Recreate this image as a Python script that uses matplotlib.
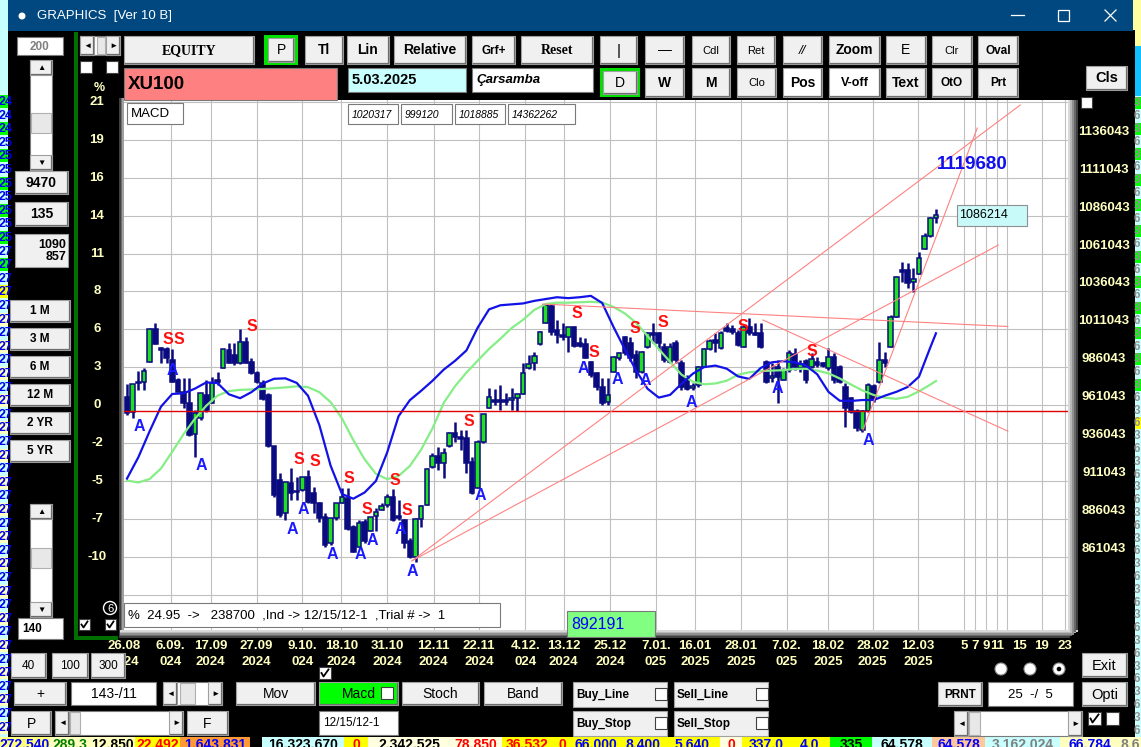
import matplotlib
matplotlib.use("Agg")
import matplotlib.pyplot as plt
from matplotlib.patches import Rectangle, Circle

plt.rcParams["font.family"] = ["Liberation Sans", "DejaVu Sans"]

# XU100 daily bars 26.08.2024 .. 5.03.2025, prices in thousands
open_ = [966.6, 956.7, 976.5, 976.1, 989.3, 1011.3, 998.9, 998.1, 990.8, 977.6,
         969.9, 962.2, 942.0, 952.3, 967.7, 962.2, 977.6, 985.3, 997.4, 994.1,
         988.6, 1002.9, 989.7, 982.0, 975.4, 967.7, 934.3, 911.7, 889.7, 909.9,
         903.5, 905.1, 913.4, 903.3, 896.3, 887.5, 869.9, 886.3, 896.2, 899.5,
         880.8, 867.6, 884.1, 878.2, 887.9, 891.8, 895.1, 900.6, 887.9, 885.2,
         871.6, 861.0, 885.7, 895.1, 920.4, 927.7, 922.6, 934.1, 942.4, 940.2,
         939.1, 923.7, 906.1, 936.9, 958.9, 964.4, 963.7, 964.2, 964.4, 965.5,
         968.1, 985.3, 988.6, 1001.3, 1015.0, 1026.4, 1010.6, 1007.3, 1005.7, 1012.3,
         1001.8, 1001.3, 989.7, 982.0, 973.2, 963.3, 983.1, 991.9, 1005.7, 1002.2,
         994.1, 983.1, 999.6, 1008.8, 1008.4, 999.6, 989.7, 1001.8, 989.0, 978.7,
         972.1, 974.3, 986.4, 997.8, 1004.0, 998.5, 1011.7, 1011.0, 1008.8, 999.6,
         1012.8, 1008.4, 1008.4, 989.7, 978.7, 986.4, 977.6, 984.2, 994.7, 985.3,
         990.3, 986.4, 989.7, 988.6, 985.3, 992.5, 985.9, 973.2, 965.5, 957.3,
         944.6, 957.3, 973.6, 976.5, 990.8, 999.1, 1018.9, 1050.1, 1050.1, 1042.5,
         1047.5, 1063.8, 1072.6, 1084.2]
high = [974.8, 974.8, 983.8, 985.3, 1011.7, 1015.4, 999.6, 999.6, 997.9, 978.7,
        978.7, 978.7, 957.8, 968.8, 977.6, 979.8, 983.1, 997.9, 1001.8, 1001.8,
        1011.0, 1006.2, 991.9, 983.8, 977.6, 968.8, 934.3, 916.5, 910.6, 919.3,
        913.9, 913.9, 918.3, 907.3, 897.4, 889.7, 886.4, 896.2, 906.1, 906.6,
        881.9, 885.2, 885.7, 887.4, 892.9, 896.2, 902.4, 905.5, 898.4, 885.7,
        873.1, 886.3, 895.1, 919.3, 929.2, 933.2, 932.5, 943.5, 950.1, 944.6,
        944.6, 927.0, 937.9, 955.2, 972.1, 971.4, 974.3, 968.8, 972.5, 968.8,
        989.0, 994.1, 996.3, 1010.1, 1027.7, 1027.7, 1017.2, 1015.0, 1012.8, 1013.2,
        1006.2, 1005.1, 990.3, 983.1, 978.7, 978.7, 993.4, 996.3, 1006.6, 1006.2,
        997.4, 996.9, 1009.5, 1015.4, 1009.5, 1001.8, 1001.8, 1004.0, 990.7, 980.9,
        975.4, 986.8, 998.5, 1004.4, 1008.8, 1010.1, 1015.0, 1013.9, 1010.6, 1013.9,
        1018.3, 1015.0, 1015.0, 990.8, 988.6, 990.8, 985.3, 997.4, 998.5, 990.8,
        991.2, 995.2, 992.5, 989.7, 998.5, 995.2, 987.5, 975.4, 966.6, 958.2,
        957.8, 975.4, 974.9, 1002.9, 996.3, 1020.5, 1046.2, 1055.6, 1054.5, 1051.3,
        1062.2, 1074.3, 1085.3, 1090.2]
low = [954.5, 952.3, 971.0, 971.0, 989.3, 1001.2, 988.6, 988.6, 976.5, 969.9,
       958.9, 940.7, 927.1, 951.2, 956.7, 962.2, 974.3, 985.3, 988.6, 987.5,
       988.2, 988.6, 981.6, 975.4, 964.4, 933.6, 900.7, 887.5, 885.3, 898.5,
       898.5, 904.6, 896.3, 889.7, 884.2, 867.7, 868.8, 885.2, 896.2, 878.6,
       864.4, 867.6, 869.8, 878.2, 878.2, 891.8, 894.0, 884.8, 885.2, 866.5,
       859.9, 857.7, 880.4, 895.1, 919.3, 918.2, 912.7, 933.6, 936.9, 931.4,
       916.4, 902.4, 906.1, 936.2, 958.9, 961.1, 957.8, 961.1, 957.8, 957.4,
       968.1, 984.6, 984.2, 1000.7, 1015.0, 1007.3, 1001.8, 1004.0, 996.3, 999.6,
       999.6, 991.9, 979.8, 971.0, 961.1, 961.1, 983.1, 990.7, 994.1, 990.3,
       978.7, 982.0, 998.5, 1001.8, 997.4, 989.7, 988.6, 989.0, 971.0, 971.0,
       971.0, 973.2, 985.9, 997.4, 996.3, 997.8, 1009.5, 1007.9, 1000.0, 999.6,
       1007.3, 1007.3, 998.5, 975.4, 976.5, 962.2, 977.6, 983.1, 984.2, 983.1,
       975.8, 985.3, 986.4, 985.9, 984.2, 975.8, 975.4, 946.8, 955.6, 944.2,
       943.5, 956.7, 963.1, 975.8, 986.4, 999.1, 1018.9, 1042.5, 1038.1, 1035.9,
       1047.5, 1063.8, 1072.1, 1081.4]
close = [955.6, 974.8, 975.4, 983.6, 1011.3, 1001.2, 997.4, 991.9, 976.5, 969.9,
         962.2, 941.3, 955.6, 968.8, 957.8, 975.9, 976.3, 997.9, 989.1, 988.6,
         1002.9, 989.1, 982.0, 976.5, 964.9, 934.1, 901.8, 888.6, 910.6, 903.3,
         904.6, 913.4, 897.4, 896.3, 886.4, 868.8, 886.4, 896.2, 900.2, 879.1,
         864.4, 883.5, 871.6, 887.4, 890.7, 894.5, 900.6, 885.2, 886.3, 869.8,
         861.0, 885.7, 894.5, 918.6, 927.7, 922.6, 929.6, 942.4, 940.2, 938.4,
         922.6, 902.8, 936.9, 955.2, 966.2, 962.9, 963.1, 963.3, 965.5, 968.1,
         982.4, 988.2, 993.4, 1009.5, 1027.1, 1009.5, 1007.3, 1005.7, 1012.3, 1000.0,
         1000.0, 991.9, 980.9, 973.2, 962.2, 967.7, 993.0, 995.6, 995.1, 991.9,
         983.1, 996.3, 1008.4, 1007.3, 1001.8, 990.7, 999.6, 990.7, 973.2, 971.4,
         973.9, 986.4, 997.8, 1003.5, 1002.2, 1008.8, 1010.1, 1009.5, 1000.7, 1012.8,
         1008.4, 1007.3, 999.6, 976.5, 980.4, 979.8, 984.2, 995.2, 986.4, 988.1,
         977.6, 991.2, 987.5, 986.8, 992.5, 977.6, 976.5, 958.9, 956.7, 945.7,
         957.3, 974.3, 964.8, 990.8, 989.0, 1018.9, 1045.3, 1049.0, 1041.4, 1044.0,
         1057.8, 1072.6, 1084.2, 1086.2]

# MACD overlay (blue) and its signal (light green), read every second bar, on the price scale
macd_bars = list(range(0, 143, 2)) + [143]
macd = [912.6, 926.6, 943.8, 960.0, 968.4, 968.8, 971.9, 976.0, 975.6, 968.2,
        965.6, 969.6, 975.3, 978.4, 978.7, 975.7, 967.2, 947.9, 921.0, 902.4,
        899.3, 903.4, 911.0, 929.9, 953.7, 964.3, 970.5, 977.1, 984.5, 990.3,
        997.1, 1012.2, 1024.2, 1026.9, 1027.5, 1028.1, 1029.8, 1031.0, 1032.2, 1031.6,
        1032.2, 1033.1, 1028.4, 1012.6, 997.9, 983.8, 971.9, 966.0, 967.8, 975.0,
        981.7, 986.1, 987.1, 985.1, 980.0, 978.3, 985.5, 989.3, 990.0, 989.3,
        987.2, 981.4, 969.8, 963.9, 963.8, 964.4, 964.4, 967.3, 969.8, 973.0,
        979.8, 999.1, 1008.4]
signal = [911.3, 910.0, 912.3, 919.2, 930.3, 941.9, 952.0, 960.6, 967.3, 970.3,
          971.1, 971.4, 971.7, 972.2, 972.7, 973.4, 972.9, 969.6, 963.0, 952.3,
          938.0, 925.3, 915.7, 912.2, 914.3, 920.9, 931.7, 945.7, 962.6, 973.6,
          982.5, 990.4, 998.1, 1004.8, 1011.9, 1017.3, 1023.8, 1027.7, 1028.6, 1028.6,
          1028.9, 1029.2, 1028.7, 1025.8, 1021.5, 1015.3, 1006.7, 998.0, 989.6, 981.2,
          976.5, 974.8, 975.3, 977.1, 981.1, 982.7, 983.5, 983.8, 984.1, 984.9,
          985.0, 983.8, 982.0, 978.6, 974.6, 970.7, 967.7, 965.9, 965.2, 966.5,
          970.1, 974.6, 976.9]

base_price = 957.1
trend_lines = [((50.4, 858.4), (157.9, 1159.0)),
               ((50.4, 858.4), (154.0, 1066.6)),
               ((130.1, 944.6), (150.3, 1143.8)),
               ((112.4, 1017.2), (155.7, 943.9)),
               ((73.5, 1027.7), (155.7, 1012.9))]
sell_marks = [(7.2, 1004.0), (9.1, 1004.0), (22.1, 1012.8), (30.4, 925.3), (33.3, 923.7),
              (39.2, 912.8), (42.4, 892.3), (47.4, 911.2), (49.4, 891.8), (60.5, 950.5),
              (79.6, 1021.6), (82.6, 995.6), (89.7, 1011.7), (94.7, 1015.4), (108.8, 1013.2),
              (121.0, 996.3)]
buy_marks = [(2.1, 946.8), (8.0, 984.2), (13.1, 921.5), (29.2, 879.1), (31.2, 892.3),
             (36.3, 862.2), (41.3, 862.2), (43.4, 872.0), (48.4, 879.1), (50.4, 851.2),
             (62.4, 901.1), (80.7, 985.3), (86.7, 978.1), (91.6, 977.6), (99.7, 962.6),
             (114.9, 972.1), (131.0, 937.5)]

grid_prices = [1161043, 1136043, 1111043, 1086043, 1061043, 1036043, 1011043,
               986043, 961043, 936043, 911043, 886043, 861043, 836043]
pct_labels = ["21", "19", "16", "14", "11", "8", "6", "3", "0", "-2", "-5", "-7", "-10"]
date_pos = [-0.5, 7.7, 14.8, 22.9, 31.0, 37.9, 46.0, 54.2, 62.2, 70.4, 77.2, 85.4,
            93.5, 100.4, 108.5, 116.6, 123.9, 131.8, 139.8]
date_top = ["26.08", "6.09.", "17.09", "27.09", "9.10.", "18.10", "31.10", "12.11", "22.11",
            "4.12.", "13.12", "25.12", "7.01.", "16.01", "28.01", "7.02.", "18.02", "28.02", "12.03"]
date_bot = ["2024", "024", "2024", "2024", "024", "2024", "2024", "2024", "2024",
            "024", "2024", "2024", "025", "2025", "2025", "025", "2025", "2025", "2025"]
future_pos = [148.0, 149.9, 151.8, 153.8, 157.7, 161.7, 165.8]
future_lbl = ["5", "7", "9", "11", "15", "19", "23"]
future_grid = [148.0, 149.9, 151.8, 153.8, 155.6, 161.7, 165.8]

last_price = 1086214
target_price = 1119680
target_bar = 149.4

NAVY = "#0b0b80"
GREEN = "#1fe01f"
PALE = "#ffffc0"

W, H = 1141, 747
fig = plt.figure(figsize=(W / 100, H / 100), dpi=100)
fig.patch.set_facecolor("black")


def pixel_axes(z):
    a = fig.add_axes([0, 0, 1, 1])
    a.set_xlim(0, W)
    a.set_ylim(H, 0)
    a.axis("off")
    a.set_zorder(z)
    return a


bg = pixel_axes(0)
ax = fig.add_axes([124 / W, 1 - 630 / H, 944 / W, 530 / H])
ax.set_zorder(1)
fg = pixel_axes(2)


def box(x0, y0, x1, y1, fill, edge="#a0a0a0", lw=0.8, z=3, a=None):
    (a or fg).add_patch(Rectangle((x0, y0), x1 - x0, y1 - y0, facecolor=fill,
                                  edgecolor=edge, lw=lw, zorder=z))


def button(x0, y0, x1, y1, label, size=9.5, weight="bold", fill="#f0f0f0",
           family=None, style="normal", color="black"):
    box(x0, y0, x1, y1, fill)
    fg.plot([x0 + 1, x1 - 1, x1 - 1], [y1 - 1, y1 - 1, y0 + 1], color="#6e6e6e", lw=0.9, zorder=4)
    kw = {"family": family} if family else {}
    fg.text((x0 + x1) / 2, (y0 + y1) / 2 + 0.5, label, ha="center", va="center", fontsize=size,
            fontweight=weight, fontstyle=style, color=color, zorder=5, **kw)


def field(x0, y0, x1, y1, label, fill="white", size=9, weight="bold", ha="left",
          style="normal", color="black", a=None):
    box(x0, y0, x1, y1, fill, edge="#7a7a7a", a=a)
    tx = x0 + 4 if ha == "left" else ((x0 + x1) / 2 if ha == "center" else x1 - 3)
    (a or fg).text(tx, (y0 + y1) / 2 + 0.5, label, ha=ha, va="center", fontsize=size,
                   fontweight=weight, fontstyle=style, color=color, zorder=5)


def checkbox(x0, y0, s=11, checked=False):
    box(x0, y0, x0 + s, y0 + s, "white", edge="#404040")
    if checked:
        fg.plot([x0 + 2.5, x0 + 4.5, x0 + s - 2.5], [y0 + s / 2, y0 + s - 2.5, y0 + 2.5],
                color="black", lw=1.3, zorder=5)


def hscroll(x0, y0, x1, y1, thumb):
    box(x0, y0, x1, y1, "white", edge="#7a7a7a")
    button(x0, y0, x0 + 14, y1, "\u25c4", size=6, weight="normal")
    button(x1 - 14, y0, x1, y1, "\u25ba", size=6, weight="normal")
    box(thumb[0], y0 + 1, thumb[1], y1 - 1, "#e8e8e8", edge="#b0b0b0")


def vscroll(x0, y0, x1, y1, thumb):
    box(x0, y0, x1, y1, "white", edge="#7a7a7a")
    button(x0, y0, x1, y0 + 15, "\u25b2", size=6, weight="normal")
    button(x0, y1 - 15, x1, y1, "\u25bc", size=6, weight="normal")
    box(x0 + 1, thumb[0], x1 - 1, thumb[1], "#e8e8e8", edge="#b0b0b0")


# ---------- side and bottom strips of the windows behind ----------
bg.add_patch(Rectangle((0, 0), 8, H, facecolor="#c8ffff", edgecolor="none"))
for k in range(47):
    y = 95 + k * 13.6
    col = ("#00ff00" if k % 2 == 0 else "#c8ffff") if k < 14 else ("#c8ffff" if k % 2 else "#ffffc0")
    if k == 14:
        col = "#ffff00"
    bg.add_patch(Rectangle((0, y), 8, 13, facecolor=col, edgecolor="none"))
    bg.text(-1, y + 7, "24" if k < 3 else ("25" if k < 11 else "27"), color="#0000ee",
            fontsize=9, fontweight="bold", va="center")
bg.add_patch(Rectangle((1133, 0), 8, H, facecolor="#c8ffff", edgecolor="none"))
bg.add_patch(Rectangle((1133, 0), 8, 46, facecolor="#ffffa0", edgecolor="none"))
bg.add_patch(Rectangle((1133, 46), 8, 50, facecolor="#10c0ff", edgecolor="none"))
for k in range(50):
    y = 97 + k * 12.8
    col = "#00ff00" if k % 2 == 0 and k < 24 else "#c8ffff"
    if k == 25:
        col = "#ffff00"
    bg.add_patch(Rectangle((1133, y), 8, 12, facecolor=col, edgecolor="none"))
    bg.text(1134, y + 6.5, "36"[k % 2], color="#909090", fontsize=8.5, fontweight="bold", va="center")
bg.add_patch(Rectangle((8, 30), 1127, 707, facecolor="black", edgecolor="none"))

bottom_cells = [(0, 50, "#ffff80", "#0000ff", "272.540"), (50, 90, "#ffffc0", "#008000", "289.3"),
                (90, 135, "#ffffc0", "#000000", "12.850"), (135, 180, "#ffff00", "#ff0000", "22.492"),
                (180, 250, "#ff9933", "#0000ff", "1.643.831"), (250, 262, "#000000", "#000000", ""),
                (262, 344, "#c8ffff", "#000000", "16.323.670"), (344, 368, "#ffff00", "#ff0000", "0"),
                (368, 450, "#ffffe0", "#000000", "2.342.525"), (450, 502, "#ffffe0", "#ff0000", "78.850"),
                (502, 552, "#ffff00", "#ff0000", "36.532"), (552, 572, "#ffff00", "#ff0000", "0"),
                (572, 620, "#ffff00", "#0000ff", "66.000"), (620, 665, "#ffff00", "#0000ff", "8.400"),
                (665, 720, "#ffff00", "#0000ff", "5.640"), (720, 742, "#ffffe0", "#ff0000", "0"),
                (742, 790, "#ffff00", "#0000ff", "337.0"), (790, 830, "#ffff00", "#0000ff", "4.0"),
                (830, 872, "#00ff00", "#000000", "335"), (872, 932, "#c8ffff", "#000000", "64.578"),
                (932, 985, "#ffc89a", "#0000ff", "64.578"), (985, 1060, "#c8ffff", "#808080", "3.162.024"),
                (1060, 1120, "#ffffc0", "#0000ff", "66.784"), (1120, 1141, "#ffffc0", "#808080", "8.6")]
for x0, x1, cbg, cfg, txt in bottom_cells:
    bg.add_patch(Rectangle((x0, 737), x1 - x0, 10, facecolor=cbg, edgecolor="none"))
    bg.text((x0 + x1) / 2, 738, txt, color=cfg, fontsize=10, fontweight="bold", ha="center", va="top")

# ---------- title bar ----------
bg.add_patch(Rectangle((8, 0), 1125, 31, facecolor="#00487f", edgecolor="none"))
bg.add_patch(Circle((22, 16), 3.5, facecolor="white", edgecolor="none"))
bg.text(37, 16, "GRAPHICS  [Ver 10 B]", color="white", fontsize=9.5, va="center")
bg.plot([1011, 1024], [15, 15], color="white", lw=0.9)
bg.add_patch(Rectangle((1058, 10), 11, 11, facecolor="none", edgecolor="white", lw=0.9))
bg.plot([1105, 1116], [10, 21], color="white", lw=0.9)
bg.plot([1105, 1116], [21, 10], color="white", lw=0.9)

# chart frame shading
for k, c in enumerate(["#404040", "#707070", "#a0a0a0"]):
    bg.add_patch(Rectangle((119 + k * 1.7, 98), 1.7, 540, facecolor=c, edgecolor="none"))
for k, c in enumerate(["#d8d8d8", "#b8b8b8", "#909090", "#686868", "#404040"]):
    bg.add_patch(Rectangle((1068 + 2 * k, 100), 2, 538 - 2 * k, facecolor=c, edgecolor="none"))
    bg.add_patch(Rectangle((120, 630 + 1.6 * k), 958 - 2 * k, 1.6, facecolor=c, edgecolor="none"))

# ---------- price chart ----------
ax.set_facecolor("white")
for s in ax.spines.values():
    s.set_visible(False)
ax.set_xticks([])
ax.set_yticks([])
for p in grid_prices:
    ax.axhline(p / 1000, color="#c0c0c0", lw=0.8, zorder=0)
for b in date_pos[1:] + future_grid:
    ax.axvline(b, color="#c0c0c0", lw=0.8, zorder=0)

idx = list(range(len(close)))
ax.vlines(idx, low, high, color=NAVY, lw=1.8, zorder=2)
bottoms = [min(o, c) for o, c in zip(open_, close)]
heights = [max(abs(c - o), 1.2) for o, c in zip(open_, close)]
colors = [GREEN if c >= o else NAVY for o, c in zip(open_, close)]
ax.bar(idx, heights, width=0.82, bottom=bottoms, color=colors, edgecolor=NAVY, linewidth=1.1, zorder=3)

ax.plot(macd_bars, signal, color="#86ee86", lw=1.6, zorder=4)
ax.plot(macd_bars, macd, color="#1212e6", lw=1.6, zorder=4)
ax.axhline(base_price, color="#e00000", lw=1.0, zorder=4)
for (b0, p0), (b1, p1) in trend_lines:
    ax.plot([b0, b1], [p0, p1], color="#ff8282", lw=0.8, zorder=5)
for b, p in sell_marks:
    ax.text(b, p, "S", color="#ff1010", fontsize=11.5, fontweight="bold", ha="center", va="center", zorder=6)
for b, p in buy_marks:
    ax.text(b, p, "A", color="#1a1aff", fontsize=11.5, fontweight="bold", ha="center", va="center", zorder=6)

ax.text(target_bar, target_price / 1000, str(target_price), color="#1010ee", fontsize=13.5,
        fontweight="bold", ha="center", va="center", zorder=6)
ax.add_patch(Rectangle((146.7, last_price / 1000 - 6.9), 12.4, 13.8, facecolor="#c8fafa",
                       edgecolor="#909090", lw=0.8, zorder=6, clip_on=False))
ax.text(147.0, last_price / 1000, str(last_price), fontsize=9, ha="left", va="center", zorder=7)

for p in grid_prices[1:-1]:
    ax.annotate(str(p), xy=(1, p / 1000), xycoords=("axes fraction", "data"), xytext=(36, 8),
                textcoords="offset pixels", ha="center", va="center", color=PALE, fontsize=9.5,
                fontweight="bold", annotation_clip=False)
for p, lab in zip(grid_prices, pct_labels):
    ax.annotate(lab, xy=(0, p / 1000), xycoords=("axes fraction", "data"), xytext=(-27, 0),
                textcoords="offset pixels", ha="center", va="center", color=PALE, fontsize=9.5,
                fontweight="bold", annotation_clip=False)
for b, t1, t2 in zip(date_pos, date_top, date_bot):
    for txt, dy in ((t1, -16), (t2, -32)):
        ax.annotate(txt, xy=(b, 0), xycoords=("data", "axes fraction"), xytext=(0, dy),
                    textcoords="offset pixels", ha="center", va="center", color=PALE,
                    fontsize=9.5, fontweight="bold", annotation_clip=False)
for b, txt in zip(future_pos, future_lbl):
    ax.annotate(txt, xy=(b, 0), xycoords=("data", "axes fraction"), xytext=(0, -16),
                textcoords="offset pixels", ha="center", va="center", color=PALE,
                fontsize=9.5, fontweight="bold", annotation_clip=False)
ax.set_xlim(-0.53, 166.34)
ax.set_ylim(812.7, 1162.3)

# ---------- overlays inside the chart ----------
field(127, 103, 183, 124, "MACD", size=9.5, weight="normal")
for (x0, x1), txt in zip([(348, 398), (401, 452), (455, 505), (508, 575)],
                         ["1020317", "999120", "1018885", "14362262"]):
    field(x0, 104, x1, 124, txt, size=7.5, weight="normal", style="italic")
field(124, 603, 500, 627, "%  24.95  ->   238700  ,Ind -> 12/15/12-1  ,Trial # ->  1",
      size=9.5, weight="normal")
field(567, 611, 655, 637, "892191", fill="#80ff80", size=11.5, weight="normal", color="#0000ff")

# ---------- top toolbar ----------
button(124, 36, 254, 64, "EQUITY", size=10, family="Liberation Serif")
box(264, 35, 298, 65, "#00e000", edge="none")
button(268, 38, 294, 62, "P", size=10, weight="normal")
button(305, 36, 343, 64, "Tl", size=10)
button(347, 36, 389, 64, "Lin", size=10)
button(394, 36, 466, 64, "Relative", size=10)
button(472, 36, 515, 64, "Grf+", size=8.5)
button(521, 36, 593, 64, "Reset", size=10, family="Liberation Serif")
button(600, 36, 637, 64, "|", size=11, weight="normal")
button(645, 36, 684, 64, "\u2014", size=10, weight="normal")
button(692, 36, 730, 64, "Cdl", size=8, weight="normal")
button(737, 36, 775, 64, "Ret", size=8, weight="normal")
button(783, 36, 822, 64, "//", size=9.5, weight="normal", style="italic")
button(829, 36, 880, 64, "Zoom", size=10)
button(886, 36, 926, 64, "E", size=10, weight="normal")
button(932, 36, 972, 64, "Clr", size=8, weight="normal")
button(978, 36, 1018, 64, "Oval", size=8.5)

field(124, 68, 337, 100, "XU100", fill="#ff8080", size=13.5)
field(348, 68, 466, 92, "5.03.2025", fill="#c8ffff", size=10.5)
field(472, 68, 593, 92, "\u00c7arsamba", size=9.5, style="italic")
box(600, 68, 640, 97, "#00e000", edge="none")
button(603, 71, 637, 94, "D", size=10, weight="normal")
button(645, 68, 684, 97, "W", size=10)
button(692, 68, 730, 97, "M", size=10)
button(737, 68, 776, 97, "Clo", size=8, weight="normal")
button(783, 68, 822, 97, "Pos", size=10, fill="white")
button(829, 68, 880, 97, "V-off", size=9, fill="white")
button(886, 68, 926, 97, "Text", size=10)
button(932, 68, 972, 97, "OtO", size=8.5)
button(978, 68, 1018, 97, "Prt", size=8.5)
button(1086, 66, 1127, 90, "Cls", size=10.5)
checkbox(1081, 97)

# ---------- left panel ----------
field(17, 37, 63, 55, "200", size=8.5, ha="center", color="#808080")
vscroll(30, 60, 52, 170, (113, 133))
button(15, 171, 68, 194, "9470", size=10)
button(15, 202, 68, 226, "135", size=10)
box(15, 234, 68, 267, "#f0f0f0", edge="#a0a0a0")
fg.text(66, 250.5, "1090\n857", ha="right", va="center", fontsize=9, fontweight="bold",
        linespacing=1.0, zorder=5)
for k, lab in enumerate(["1 M", "3 M", "6 M", "12 M", "2 YR", "5 YR"]):
    y0 = 300 + k * 28
    button(10, y0, 70, y0 + 22, lab, size=8.5)
vscroll(30, 504, 52, 617, (548, 568))
field(18, 618, 63, 639, "140", size=8.5)
box(74, 32, 78, 640, "#006e00", edge="none")
box(74, 636, 118, 640, "#006e00", edge="none")
hscroll(80, 36, 120, 55, (97, 105))
checkbox(80, 61, 12)
checkbox(106, 61, 12)
fg.text(99, 88, "%", color=PALE, fontsize=9, fontweight="bold", ha="center", va="center")
fg.add_patch(Circle((110, 608), 6.5, facecolor="none", edgecolor="white", lw=1.0, zorder=5))
fg.text(110, 608.5, "6", color="white", fontsize=8, ha="center", va="center", zorder=5)
checkbox(79, 619, 11, True)
checkbox(105, 619, 11, True)

# ---------- bottom toolbar ----------
button(11, 653, 46, 678, "40", size=8.5, weight="normal")
button(52, 653, 88, 678, "100", size=8.5, weight="normal")
button(91, 653, 125, 678, "300", size=8.5, weight="normal")
button(14, 682, 66, 705, "+", size=10, weight="normal")
field(71, 682, 156, 705, "143-/11", size=10, weight="normal", ha="center")
hscroll(163, 682, 222, 705, (180, 195))
button(236, 682, 315, 705, "Mov", size=10, weight="normal")
button(319, 682, 398, 705, "Macd", size=10, weight="normal", fill="#00ff00")
checkbox(381, 687, 12)
button(402, 682, 479, 705, "Stoch", size=10, weight="normal")
button(484, 682, 562, 705, "Band", size=10, weight="normal")
for x0, y0, lab in [(573, 682, "Buy_Line"), (674, 682, "Sell_Line"),
                    (573, 711, "Buy_Stop"), (674, 711, "Sell_Stop")]:
    box(x0, y0, x0 + 94, y0 + 25, "#f0f0f0")
    fg.text(x0 + 3, y0 + 13, lab, fontsize=8.5, fontweight="bold", va="center", zorder=5)
    checkbox(x0 + 82, y0 + 6, 12)
button(11, 711, 51, 735, "P", size=10, weight="normal")
hscroll(55, 711, 183, 735, (70, 80))
button(187, 711, 228, 735, "F", size=10, weight="normal")
field(319, 711, 398, 735, "12/15/12-1", size=8.5, weight="normal")
checkbox(319, 667, 12, True)
for k, x in enumerate([1001, 1030, 1059]):
    fg.add_patch(Circle((x, 669), 6, facecolor="white", edgecolor="#909090", lw=0.8, zorder=4))
    if k == 2:
        fg.add_patch(Circle((x, 669), 2.3, facecolor="black", edgecolor="none", zorder=5))
button(1082, 653, 1127, 677, "Exit", size=10.5, weight="normal")
button(938, 682, 982, 706, "PRNT", size=8.5)
field(988, 682, 1073, 706, "25  -/  5", size=9.5, weight="normal", ha="center")
button(1082, 682, 1127, 706, "Opti", size=10.5, weight="normal")
hscroll(954, 711, 1082, 736, (969, 980))
checkbox(1088, 712, 13, True)
checkbox(1106, 712, 13)

fig.savefig("out.png", dpi=100, facecolor="black")
